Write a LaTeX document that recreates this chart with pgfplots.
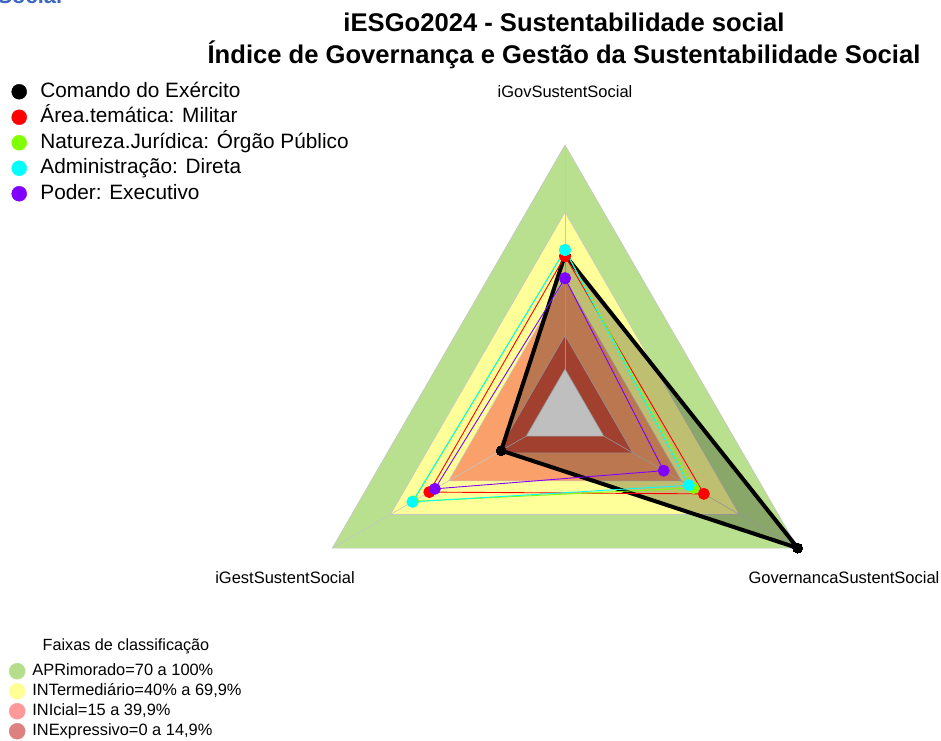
\documentclass[border=0pt]{standalone}
\usepackage{fontspec}
\setmainfont{Liberation Sans}
\usepackage{pgfplots}
\pgfplotsset{compat=1.18}
\usepackage{pgfplotstable}

\definecolor{bandA}{RGB}{185,224,142}
\definecolor{bandB}{RGB}{255,255,153}
\definecolor{bandC}{RGB}{250,160,106}
\definecolor{bandD}{RGB}{217,86,64}
\definecolor{legA}{RGB}{181,221,140}
\definecolor{legB}{RGB}{255,255,150}
\definecolor{legC}{RGB}{255,152,152}
\definecolor{legD}{RGB}{221,128,128}
\definecolor{ser2}{RGB}{255,0,0}
\definecolor{ser3}{RGB}{127,255,0}
\definecolor{ser4}{RGB}{0,255,255}
\definecolor{ser5}{RGB}{128,0,255}
\definecolor{topblue}{RGB}{60,105,190}

% values 0..1 on each axis (angle a in degrees)
\pgfplotstableread{
a   cmd   mil   nat   adm   pod
90  0.509 0.504 0.531 0.531 0.405
210 0.129 0.500 0.583 0.587 0.471
330 1.000 0.516 0.463 0.439 0.309
450 0.509 0.504 0.531 0.531 0.405
}\series

% classification bands
\pgfplotstableread{
a   apr  int  ini  inx  zero
90  1.0  0.7  0.4  0.15 0
210 1.0  0.7  0.4  0.15 0
330 1.0  0.7  0.4  0.15 0
450 1.0  0.7  0.4  0.15 0
}\faixas

\pgfplotsset{
  table/radar/.style={
    x expr={565+268.7*(1+5*\thisrow{#1})/6*cos(\thisrow{a})},
    y expr={413.7-268.7*(1+5*\thisrow{#1})/6*sin(\thisrow{a})}},
  base/.style={width=941pt, height=740pt, scale only axis,
    xmin=0, xmax=941, ymin=0, ymax=740, y dir=reverse,
    hide axis, clip=false},
}

\begin{document}
\begin{tikzpicture}
\begin{axis}[base, name=main,
  legend image code/.code={\fill[#1] (7.5pt,0pt) circle[radius=7.5pt];},
  legend cell align=left,
  legend style={draw=none, fill=none, inner sep=0pt, outer sep=0pt,
    at={(axis cs:11.5,82.5)}, anchor=north west,
    font=\fontsize{20.8}{24}\selectfont,
    nodes={inner sep=0pt, text height=14.5pt, text depth=4pt},
    row sep=7pt, column sep=13.5pt},
]
% bands
\addplot[draw=none, fill=bandA, forget plot] table[radar=apr] {\faixas};
\addplot[draw=none, fill=bandB, forget plot] table[radar=int] {\faixas};
\addplot[draw=none, fill=bandC, forget plot] table[radar=ini] {\faixas};
\addplot[draw=none, fill=bandD, forget plot] table[radar=inx] {\faixas};
\addplot[draw=none, fill=white, forget plot] table[radar=zero] {\faixas};
\addplot[gray!45, line width=0.6pt, forget plot] table[radar=apr] {\faixas};
\addplot[gray!45, line width=0.6pt, forget plot] table[radar=int] {\faixas};
\addplot[gray!45, line width=0.6pt, forget plot] table[radar=ini] {\faixas};
\addplot[gray!45, line width=0.6pt, forget plot] table[radar=inx] {\faixas};
\addplot[gray!45, line width=0.6pt, forget plot] table[radar=zero] {\faixas};
% spokes
\addplot[gray!45, line width=0.6pt, forget plot] table[radar=v, row sep=\\] {a v\\ 90 0\\ 90 1\\};
\addplot[gray!45, line width=0.6pt, forget plot] table[radar=v, row sep=\\] {a v\\ 210 0\\ 210 1\\};
\addplot[gray!45, line width=0.6pt, forget plot] table[radar=v, row sep=\\] {a v\\ 330 0\\ 330 1\\};
% series
\addplot[black, line width=4pt, line join=round, fill=black, fill opacity=0.25,
  mark=*, mark size=5pt, mark options={fill opacity=1, line width=0pt}, forget plot]
  table[radar=cmd] {\series};
\addplot[ser2, line width=0.9pt, mark=*, mark size=5.5pt, mark options={draw=none}, forget plot]
  table[radar=mil] {\series};
\addplot[ser3, line width=0.9pt, mark=*, mark size=5.5pt, mark options={draw=none}, forget plot]
  table[radar=nat] {\series};
\addplot[ser4, line width=0.9pt, mark=*, mark size=5.5pt, mark options={draw=none}, forget plot]
  table[radar=adm] {\series};
\addplot[ser5, line width=0.9pt, mark=*, mark size=5.5pt, mark options={draw=none}, forget plot]
  table[radar=pod] {\series};

\addlegendimage{black}
\addlegendimage{ser2}
\addlegendimage{ser3}
\addlegendimage{ser4}
\addlegendimage{ser5}
\legend{Comando do Exército, Área.temática: Militar, Natureza.Jurídica: Órgão Público,
  Administração: Direta, Poder: Executivo}

% titles and axis labels
\node[anchor=base west, text=topblue, font=\bfseries\fontsize{22}{26}\selectfont] at (axis cs:-6,3) {Social};
\node[anchor=base, font=\bfseries\fontsize{25.6}{30}\selectfont] at (axis cs:564,31) {iESGo2024 - Sustentabilidade social};
\node[anchor=base, font=\bfseries\fontsize{25.6}{30}\selectfont] at (axis cs:564,63) {Índice de Governança e Gestão da Sustentabilidade Social};
\node[anchor=base, font=\fontsize{16.5}{20}\selectfont] at (axis cs:565,97) {iGovSustentSocial};
\node[anchor=base, font=\fontsize{16.5}{20}\selectfont] at (axis cs:285,583) {iGestSustentSocial};
\node[anchor=base, font=\fontsize{16.5}{20}\selectfont] at (axis cs:844,583) {GovernancaSustentSocial};
\node[anchor=base, font=\fontsize{16.2}{19}\selectfont] at (axis cs:126,650) {Faixas de classificação};
\end{axis}

\begin{axis}[base,
  legend image code/.code={\fill[#1] (8pt,0pt) circle[radius=8pt];},
  legend cell align=left,
  legend style={draw=none, fill=none, inner sep=0pt, outer sep=0pt,
    at={(axis cs:9,663)}, anchor=north west,
    font=\fontsize{16.4}{19}\selectfont,
    nodes={inner sep=0pt, text height=11.5pt, text depth=3.5pt},
    row sep=3.6pt, column sep=7pt},
]
\addlegendimage{legA}
\addlegendimage{legB}
\addlegendimage{legC}
\addlegendimage{legD}
\legend{{APRimorado=70 a 100\%}, {INTermediário=40\% a 69,9\%}, {INIcial=15 a 39,9\%}, {INExpressivo=0 a 14,9\%}}
\end{axis}
\pgfresetboundingbox
\path[use as bounding box] (main.south west) rectangle (main.north east);
\end{tikzpicture}
\end{document}
